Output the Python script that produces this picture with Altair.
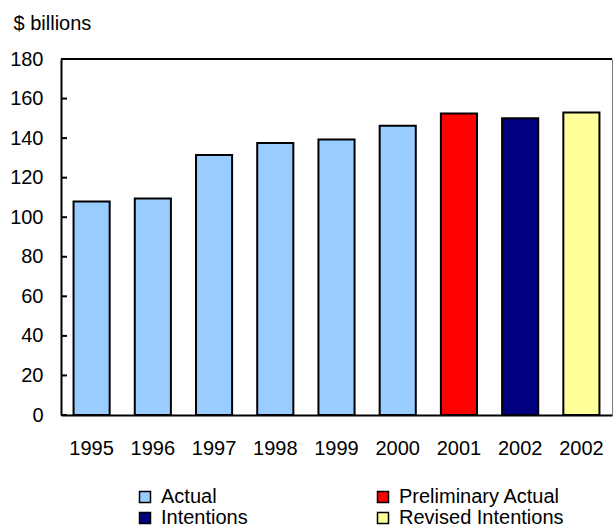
import altair as alt
import pandas as pd

# Capital investment, $ billions
categories = ["1995", "1996", "1997", "1998", "1999", "2000", "2001", "2002i", "2002r"]
year_labels = ["1995", "1996", "1997", "1998", "1999", "2000", "2001", "2002", "2002"]
values = [108.0, 109.5, 131.5, 137.5, 139.3, 146.3, 152.5, 150.0, 153.0]
series = ["Actual", "Actual", "Actual", "Actual", "Actual", "Actual",
          "Preliminary Actual", "Intentions", "Revised Intentions"]

# legend fills column by column: left column Actual / Intentions
series_order = ["Actual", "Intentions", "Preliminary Actual", "Revised Intentions"]
series_colors = ["#99CCFF", "#000080", "#FF0000", "#FFFF99"]
y_ticks = [0, 20, 40, 60, 80, 100, 120, 140, 160, 180]

FONT = "Liberation Sans"
FS = 20

bars_df = pd.DataFrame({"cat": categories, "label": year_labels,
                        "value": values, "series": series})
ticks_df = pd.DataFrame({"v": y_ticks})

label_map = "{" + ",".join(f"'{c}':'{l}'" for c, l in zip(categories, year_labels)) + "}"

x_enc = alt.X(
    "cat:N",
    sort=categories,
    scale=alt.Scale(paddingInner=0.41, paddingOuter=0.205),
    axis=alt.Axis(
        title=None, ticks=False, labelAngle=0, labelPadding=23,
        labelOverlap=False,
        labelExpr=f"{label_map}[datum.value]",
        labelFont=FONT, labelFontSize=FS, labelColor="black",
        domainColor="black", domainWidth=2,
    ),
)
y_scale = alt.Scale(domain=[0, 180], nice=False)
y_axis = alt.Axis(
    values=y_ticks, tickCount=10, ticks=False, grid=False, labelPadding=18,
    labelOverlap=False,
    labelFont=FONT, labelFontSize=FS, labelColor="black",
    domainColor="black", domainWidth=2,
    title="$ billions", titleAngle=0, titleAlign="left",
    titleBaseline="alphabetic", titleX=-48, titleY=-30,
    titleFont=FONT, titleFontSize=FS, titleFontWeight="normal",
    titleColor="black",
)

bars = alt.Chart(bars_df).mark_bar(stroke="black", strokeWidth=2).encode(
    x=x_enc,
    y=alt.Y("value:Q", scale=y_scale, axis=y_axis),
    color=alt.Color(
        "series:N",
        scale=alt.Scale(domain=series_order, range=series_colors),
        legend=alt.Legend(
            title=None, orient="none", legendX=74, legendY=428,
            columns=2, columnPadding=125, rowPadding=1,
            symbolType="square", symbolSize=121,
            symbolStrokeColor="black", symbolStrokeWidth=1.5,
            symbolOpacity=1, labelOffset=6, labelLimit=400,
            labelFont=FONT, labelFontSize=FS, labelColor="black",
        ),
    ),
)

# inward tick marks on the value axis
ticks = alt.Chart(ticks_df).mark_rule(color="black", strokeWidth=2).encode(
    y=alt.Y("v:Q", scale=y_scale, axis=y_axis),
    x=alt.value(0),
    x2=alt.value(6),
)

# top frame line at the axis maximum
top_line = alt.Chart(ticks_df).mark_rule(color="black", strokeWidth=2).encode(
    y=alt.datum(180),
)

chart = alt.layer(bars, ticks, top_line).properties(
    width=551,
    height=356,
    padding={"left": 61, "top": 59, "right": 1, "bottom": 114},
    autosize=alt.AutoSizeParams(type="none"),
    background="white",
).configure_view(stroke="#808080", strokeWidth=1)

chart.save("out.html", embed_options={"renderer": "svg", "actions": False})
